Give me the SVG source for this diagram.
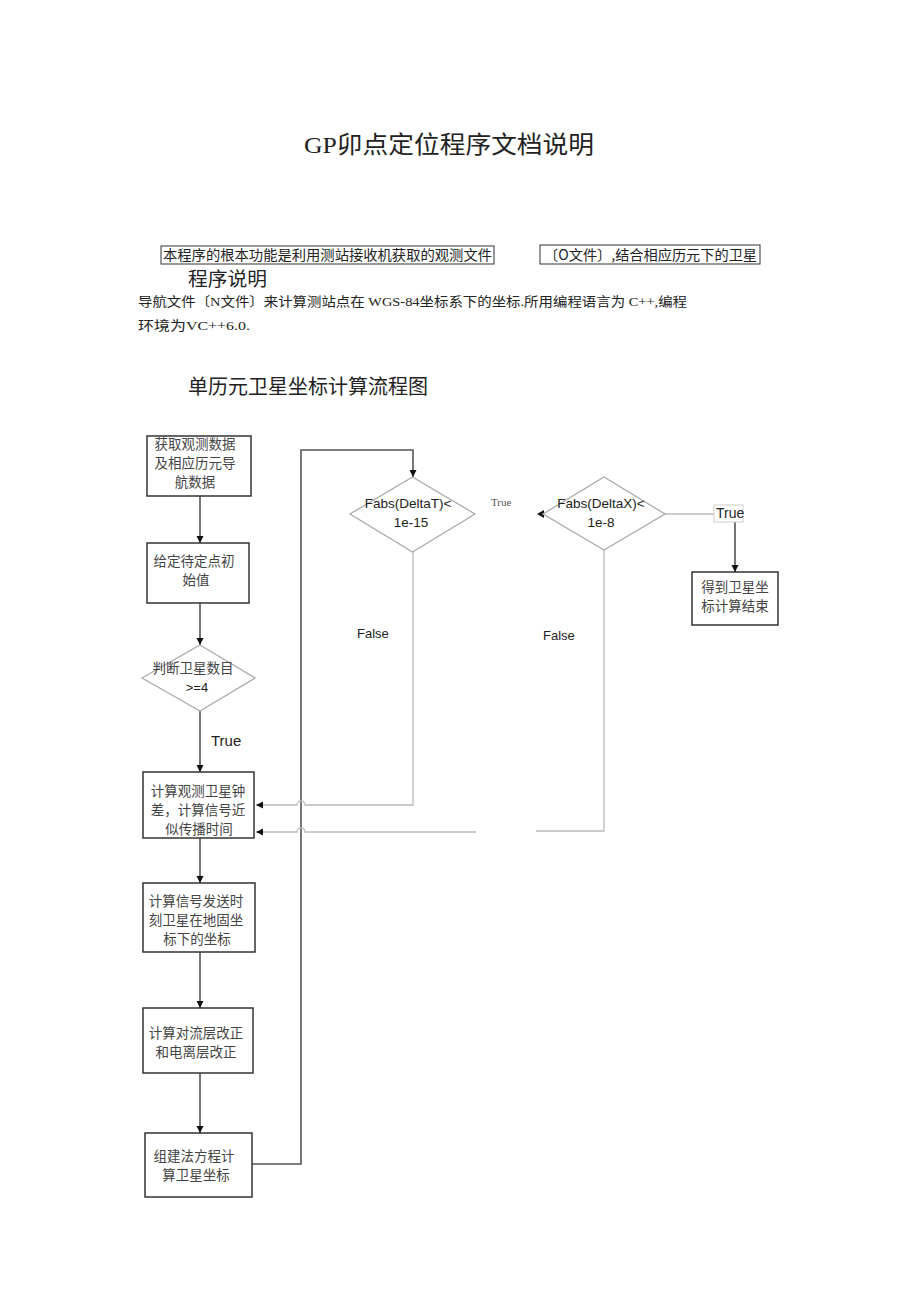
<svg xmlns="http://www.w3.org/2000/svg" width="920" height="1303" viewBox="0 0 920 1303">
<style>
.cjk{font-family:"Liberation Serif","Noto Sans CJK SC",serif;fill:#222}
.cjk2{font-family:"Noto Sans CJK SC",sans-serif;fill:#222}
.box{fill:#fff;stroke:#333;stroke-width:1.5}
.dia{fill:#fff;stroke:#aaa;stroke-width:1.3}
.bt{font-family:"Noto Sans CJK SC",sans-serif;font-size:13.5px;fill:#444;text-anchor:middle}
.at{font-family:"Liberation Sans",Arial,sans-serif;fill:#222}
.dark{fill:none;stroke:#555;stroke-width:1.6}
.light{fill:none;stroke:#bbb;stroke-width:1.3}
</style>
<defs>
<marker id="ah" markerWidth="8" markerHeight="8" refX="7" refY="4" orient="auto" markerUnits="userSpaceOnUse">
<path d="M0,0.5 L7,4 L0,7.5 z" fill="#111"/>
</marker>
</defs>
<rect width="920" height="1303" fill="#fff"/>

<g id="header">
<text class="cjk" x="304" y="153" font-size="24" textLength="290" lengthAdjust="spacingAndGlyphs">GP卯点定位程序文档说明</text>
<rect x="161" y="246" width="333" height="18" fill="none" stroke="#333" stroke-width="1"/>
<text class="cjk2" x="163" y="260" font-size="14" textLength="329" lengthAdjust="spacingAndGlyphs">本程序的根本功能是利用测站接收机获取的观测文件</text>
<rect x="540" y="245" width="220" height="19" fill="none" stroke="#333" stroke-width="1"/>
<text class="cjk2" x="544" y="260" font-size="14" textLength="213" lengthAdjust="spacingAndGlyphs">〔O文件〕,结合相应历元下的卫星</text>
<text class="cjk2" x="188" y="286" font-size="19" textLength="79" lengthAdjust="spacingAndGlyphs">程序说明</text>
<text class="cjk" x="138" y="306" font-size="13" textLength="549" lengthAdjust="spacingAndGlyphs">导航文件〔N文件〕来计算测站点在 WGS-84坐标系下的坐标.所用编程语言为 C++,编程</text>
<text class="cjk" x="138" y="330" font-size="13" textLength="112" lengthAdjust="spacingAndGlyphs">环境为VC++6.0.</text>
<text class="cjk2" x="188" y="394" font-size="20" textLength="240" lengthAdjust="spacingAndGlyphs">单历元卫星坐标计算流程图</text>
</g>

<g id="connectors">
<line class="dark" x1="200" y1="496" x2="200" y2="543" marker-end="url(#ah)"/>
<line class="dark" x1="200" y1="603" x2="200" y2="645" marker-end="url(#ah)"/>
<line class="dark" x1="200" y1="711" x2="200" y2="772" marker-end="url(#ah)"/>
<line class="dark" x1="200" y1="838" x2="200" y2="883" marker-end="url(#ah)"/>
<line class="dark" x1="200" y1="952" x2="200" y2="1008" marker-end="url(#ah)"/>
<line class="dark" x1="200" y1="1073" x2="200" y2="1133" marker-end="url(#ah)"/>
<path class="dark" d="M252,1164 L301,1164 L301,450 L413,450 L413,477" marker-end="url(#ah)"/>
<line class="dark" x1="735" y1="522" x2="735" y2="572" marker-end="url(#ah)"/>
<line class="light" x1="665" y1="514" x2="714" y2="514"/>
<path class="light" d="M413,552 L413,805 L305,805 A4,4 0 0 0 297,805 L256,805" marker-end="url(#ah)"/>
<path class="light" d="M604,550 L604,831 L536,831"/>
<path class="light" d="M476,832 L305,832 A4,4 0 0 0 297,832 L256,832" marker-end="url(#ah)"/>
<path d="M537,514 L544,510 L544,518 z" fill="#111"/>
</g>

<g id="n1"><rect class="box" x="147" y="436" width="104" height="60"/>
<text class="bt" x="195" y="449">获取观测数据</text><text class="bt" x="195" y="468">及相应历元导</text><text class="bt" x="195" y="487">航数据</text></g>

<g id="n2"><rect class="box" x="147" y="543" width="102" height="60"/>
<text class="bt" x="194" y="566">给定待定点初</text><text class="bt" x="196" y="585">始值</text></g>

<g id="n3"><polygon class="dia" points="200,645 255,678 200,711 142,678"/>
<text class="bt" x="193" y="673">判断卫星数目</text>
<text class="at" x="197" y="692" font-size="13" text-anchor="middle">&gt;=4</text></g>

<g id="n4"><rect class="box" x="143" y="772" width="111" height="66"/>
<text class="bt" x="198" y="796">计算观测卫星钟</text><text class="bt" x="198" y="815">差，计算信号近</text><text class="bt" x="199" y="834">似传播时间</text></g>

<g id="n5"><rect class="box" x="143" y="883" width="112" height="69"/>
<text class="bt" x="196" y="906">计算信号发送时</text><text class="bt" x="196" y="925">刻卫星在地固坐</text><text class="bt" x="197" y="944">标下的坐标</text></g>

<g id="n6"><rect class="box" x="143" y="1008" width="110" height="65"/>
<text class="bt" x="196" y="1038">计算对流层改正</text><text class="bt" x="196" y="1057">和电离层改正</text></g>

<g id="n7"><rect class="box" x="145" y="1133" width="107" height="64"/>
<text class="bt" x="194" y="1161">组建法方程计</text><text class="bt" x="196" y="1180">算卫星坐标</text></g>

<g id="n8"><polygon class="dia" points="412.5,477 475,514 412.5,552 350,514"/>
<text class="at" x="408" y="508" font-size="13.5" text-anchor="middle">Fabs(DeltaT)&lt;</text>
<text class="at" x="411" y="527" font-size="13.5" text-anchor="middle">1e-15</text></g>

<g id="n9"><polygon class="dia" points="604,477 665,514 604,550 543,514"/>
<text class="at" x="601" y="508" font-size="13.5" text-anchor="middle">Fabs(DeltaX)&lt;</text>
<text class="at" x="601" y="527" font-size="13.5" text-anchor="middle">1e-8</text></g>

<g id="n10"><rect class="box" x="692" y="572" width="86" height="53"/>
<text class="bt" x="735" y="592">得到卫星坐</text><text class="bt" x="735" y="611">标计算结束</text></g>

<g id="labels">
<text class="at" x="211" y="746" font-size="15">True</text>
<text x="491" y="506" font-size="11" font-family="'Liberation Serif',serif" fill="#555">True</text>
<rect x="714" y="505" width="29" height="17" fill="#fff" stroke="#ccc" stroke-width="1"/>
<text class="at" x="716" y="518" font-size="14">True</text>
<text class="at" x="357" y="638" font-size="13">False</text>
<text class="at" x="543" y="640" font-size="13">False</text>
</g>
</svg>
